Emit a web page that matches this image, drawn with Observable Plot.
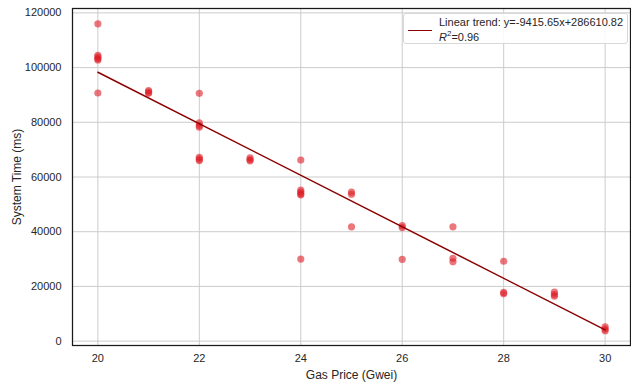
<!DOCTYPE html>
<html>
<head>
<meta charset="utf-8">
<script src="https://cdn.jsdelivr.net/npm/d3@7"></script>
<script src="https://cdn.jsdelivr.net/npm/@observablehq/plot@0.6"></script>
<style>
  html, body { margin: 0; padding: 0; background: #fff; }
  #wrap { position: relative; width: 631px; height: 383px; font-family: "Liberation Sans", Arial, sans-serif; }
  #legend { position: absolute; left: 403px; top: 13px; width: 225px; height: 31px; box-sizing: border-box;
    background: rgba(255,255,255,0.85); border: 1px solid #d8d8d8; border-radius: 3px; font-size: 11px; color: #262626; }
  #legend .sw { position: absolute; left: 4px; top: 16px; width: 24px; height: 0; border-top: 1.5px solid #8b0000; }
  #legend .t1 { position: absolute; left: 35px; top: 2px; white-space: nowrap; }
  #legend .t2 { position: absolute; left: 35px; top: 15px; white-space: nowrap; }
</style>
</head>
<body>
<div id="wrap"><div id="chart"></div>
<div id="legend"><div class="sw"></div><div class="t1"></div><div class="t2"><i>R</i><sup style="font-size:8px">2</sup>=0.96</div></div>
</div>
<script>
// Gas price (Gwei) for each observation
const gasPrice = [
  20, 20, 20, 20, 20, 20,
  21, 21, 21,
  22, 22, 22, 22, 22, 22, 22,
  23, 23, 23,
  24, 24, 24, 24, 24, 24,
  25, 25, 25,
  26, 26, 26,
  27, 27, 27,
  28, 28, 28,
  29, 29, 29,
  30, 30, 30
];
// System time (ms) for each observation
const systemTime = [
  116000, 104500, 103800, 103200, 102800, 90700,
  91600, 91000, 90600,
  90600, 79800, 78800, 78200, 67200, 66500, 66000,
  67000, 66300, 65900,
  66200, 55200, 54500, 53800, 53500, 30000,
  54500, 53700, 41800,
  42200, 41500, 29900,
  41800, 30300, 29000,
  29200, 17800, 17300,
  17900, 17000, 16400,
  5200, 4400, 3800
];
// Linear trend as stated in the legend
const trendSlope = -9415.65;
const trendIntercept = 286610.82;
const trendX = [20, 30];
const xTicks = [20, 22, 24, 26, 28, 30];
const yTicks = [0, 20000, 40000, 60000, 80000, 100000, 120000];

const points = gasPrice.map((g, i) => ({g, t: systemTime[i]}));
const trend = trendX.map(g => ({g, t: trendSlope * g + trendIntercept}));

document.querySelector("#legend .t1").textContent =
  `Linear trend: y=${trendSlope.toFixed(2)}x+${trendIntercept.toFixed(2)}`;

const chart = Plot.plot({
  width: 631,
  height: 383,
  marginLeft: 72,
  marginRight: 1,
  marginTop: 8,
  marginBottom: 38,
  style: {fontFamily: "'Liberation Sans', Arial, sans-serif", fontSize: "11px", color: "#262626", background: "#fff"},
  x: {domain: [19.5, 30.5], ticks: xTicks, grid: false, label: null},
  y: {domain: [-1600, 121600], ticks: yTicks, grid: false, label: null},
  marks: [
    Plot.gridX(xTicks, {stroke: "#cccccc", strokeOpacity: 1, strokeWidth: 1}),
    Plot.gridY(yTicks, {stroke: "#cccccc", strokeOpacity: 1, strokeWidth: 1}),
    Plot.dot(points, {x: "g", y: "t", r: 3.6, fill: "#dd1c24", fillOpacity: 0.6, stroke: "none"}),
    Plot.line(trend, {x: "g", y: "t", stroke: "#8b0000", strokeWidth: 1.5}),
    Plot.frame({stroke: "#1a1a1a", strokeWidth: 1.25}),
    Plot.axisX(xTicks, {tickSize: 0, tickPadding: 9, fontSize: 11, label: "Gas Price (Gwei)", labelAnchor: "center", labelArrow: "none", labelOffset: 33}),
    Plot.axisY(yTicks, {tickSize: 0, tickPadding: 11, fontSize: 11, tickFormat: d => String(d), label: "System Time (ms)", labelAnchor: "center", labelArrow: "none", labelOffset: 60})
  ]
});
document.getElementById("chart").appendChild(chart);
// axis labels slightly larger
chart.querySelectorAll("[aria-label='x-axis label'] text, [aria-label='y-axis label'] text").forEach(t => t.setAttribute("font-size", "12"));
</script>
</body>
</html>
